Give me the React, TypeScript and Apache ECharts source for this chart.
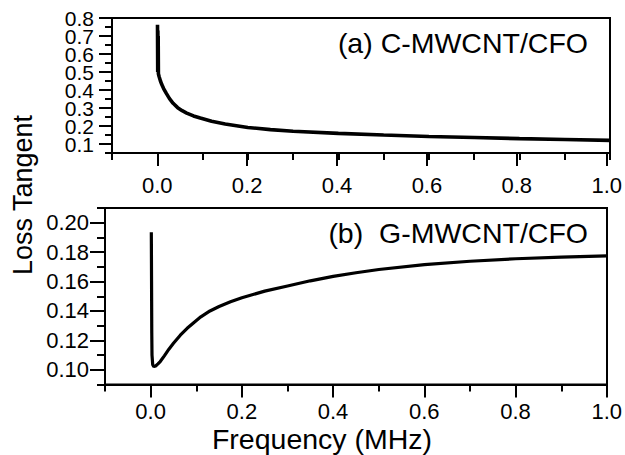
import React, { useEffect, useRef } from "react";
import * as echarts from "echarts";

// ---- data ----
const curveA_x = [0.0005, 0.001, 0.0013, 0.0017, 0.002, 0.0025, 0.004, 0.007, 0.01, 0.014, 0.02, 0.027, 0.035, 0.045, 0.055, 0.065, 0.08, 0.095, 0.12, 0.15, 0.2, 0.25, 0.3, 0.4, 0.5, 0.6, 0.7, 0.8, 0.9, 1.0];
const curveA_y = [0.762, 0.5, 0.73, 0.52, 0.7, 0.49, 0.475, 0.45, 0.43, 0.408, 0.381, 0.352, 0.326, 0.302, 0.285, 0.272, 0.256, 0.244, 0.226, 0.211, 0.192, 0.18, 0.171, 0.159, 0.15, 0.142, 0.136, 0.13, 0.125, 0.12];

const curveB_x = [0.0015, 0.002, 0.0025, 0.003, 0.0045, 0.007, 0.011, 0.016, 0.021, 0.03, 0.04, 0.05, 0.065, 0.08, 0.095, 0.11, 0.13, 0.15, 0.175, 0.2, 0.25, 0.3, 0.35, 0.4, 0.45, 0.5, 0.6, 0.7, 0.8, 0.9, 1.0];
const curveB_y = [0.1935, 0.16, 0.125, 0.11, 0.1035, 0.1022, 0.1026, 0.104, 0.1056, 0.1095, 0.114, 0.118, 0.1235, 0.1282, 0.1322, 0.136, 0.14, 0.143, 0.1462, 0.149, 0.1535, 0.157, 0.1605, 0.1635, 0.166, 0.1682, 0.1715, 0.1738, 0.1755, 0.1766, 0.1775];

// axis ranges and tick steps
const xRange = [-0.1, 1.0];
const xMajorRange = [0, 1.0];
const xMajorStep = 0.2;
const xMinorStep = 0.1;
const yaRange = [0.05, 0.8];
// panel (a) major labels split in two interleaved sets: 0.1,0.3,0.5,0.7 and 0.2,0.4,0.6,0.8
const yaMajorRanges = [[0.1, 0.7], [0.2, 0.8]];
const yaMajorStep = 0.2;
const yaMinorStep = 0.05;
const ybRange = [0.09, 0.21];
const ybMajorRanges = [[0.1, 0.2]];
const ybMajorStep = 0.02;
const ybMinorStep = 0.01;

const labelA = "(a) C-MWCNT/CFO";
const labelB = "(b)  G-MWCNT/CFO";
const yTitle = "Loss Tangent";
const xTitle = "Frequency (MHz)";

const FONT = "'Liberation Sans', Arial, sans-serif";

export default function App() {
  const ref = useRef<HTMLDivElement>(null);
  useEffect(() => {
    if (!ref.current) return;
    const chart = echarts.init(ref.current, null, { renderer: "svg" });
    const lineW = 2;
    const black = "#000";

    // panel boxes (pixels)
    const A = { left: 112, right: 15, top: 18, height: 135 };
    const B = { left: 105, right: 18, top: 208, height: 176.5 };
    const W = 625;

    const span = (r: number[]) => r[1] - r[0];
    const xShift = (P: any) => ((W - P.left - P.right) * (xMajorRange[0] - xRange[0])) / span(xRange);

    const grids: any[] = [];
    const xAxes: any[] = [];
    const yAxes: any[] = [];

    const hiddenAxis = (grid: number, range: number[]) => ({
      type: "value",
      gridIndex: grid,
      min: range[0],
      max: range[1],
      show: false,
    });

    const buildPanel = (P: any, yRange: number[], yMajRanges: number[][], yMajStep: number, yMinStep: number, digits: number, xMargin: number, yMargin: number, yMajLen: number, yMinLen: number, yFont: number) => {
      const gMain = grids.length;
      grids.push({ left: P.left, right: P.right, top: P.top, height: P.height, show: true, borderColor: black, borderWidth: lineW, containLabel: false });
      const xMainIdx = xAxes.length;
      xAxes.push({
        type: "value",
        gridIndex: gMain,
        position: "bottom",
        min: xRange[0],
        max: xRange[1],
        interval: xMinorStep,
        axisLine: { show: true, onZero: false, lineStyle: { color: black, width: lineW } },
        axisTick: { show: true, length: 7, lineStyle: { color: black, width: lineW } },
        axisLabel: { show: false },
        splitLine: { show: false },
      });
      const yMainIdx = yAxes.length;
      yAxes.push({
        type: "value",
        gridIndex: gMain,
        position: "left",
        min: yRange[0],
        max: yRange[1],
        interval: yMinStep,
        axisLine: { show: true, onZero: false, lineStyle: { color: black, width: lineW } },
        axisTick: { show: true, length: yMinLen, lineStyle: { color: black, width: lineW } },
        axisLabel: { show: false },
        splitLine: { show: false },
      });

      // x major ticks + labels
      const sh = xShift(P);
      const gX = grids.length;
      grids.push({ left: P.left + sh, right: P.right, top: P.top, height: P.height, show: false, containLabel: false });
      xAxes.push({
        type: "value",
        gridIndex: gX,
        position: "bottom",
        min: xMajorRange[0],
        max: xMajorRange[1],
        interval: xMajorStep,
        axisLine: { show: false, onZero: false },
        axisTick: { show: true, length: 13, lineStyle: { color: black, width: lineW } },
        axisLabel: {
          show: true,
          showMinLabel: true,
          showMaxLabel: true,
          margin: xMargin,
          color: black,
          fontSize: 22,
          fontFamily: FONT,
          formatter: (v: number) => v.toFixed(1),
        },
        splitLine: { show: false },
      });
      yAxes.push(hiddenAxis(gX, yRange));

      // y major ticks + labels
      const pxPerUnit = P.height / span(yRange);
      yMajRanges.forEach((r) => {
        const topCut = (yRange[1] - r[1]) * pxPerUnit;
        const botCut = (r[0] - yRange[0]) * pxPerUnit;
        const gY = grids.length;
        grids.push({ left: P.left, right: P.right, top: P.top + topCut, height: P.height - topCut - botCut, show: false, containLabel: false });
        xAxes.push(hiddenAxis(gY, xRange));
        yAxes.push({
          type: "value",
          gridIndex: gY,
          position: "left",
          min: r[0],
          max: r[1],
          interval: yMajStep,
          axisLine: { show: false, onZero: false },
          axisTick: { show: true, length: yMajLen, lineStyle: { color: black, width: lineW } },
          axisLabel: {
            show: true,
            showMinLabel: true,
            showMaxLabel: true,
            margin: yMargin,
            color: black,
            fontSize: yFont,
            fontFamily: FONT,
            formatter: (v: number) => v.toFixed(digits),
          },
          splitLine: { show: false },
        });
      });
      return { xMainIdx, yMainIdx };
    };

    const pa = buildPanel(A, yaRange, yaMajorRanges, yaMajorStep, yaMinorStep, 1, 21, 18, 13, 7, 21);
    const pb = buildPanel(B, ybRange, ybMajorRanges, ybMajorStep, ybMinorStep, 2, 16, 16, 15, 8, 22);

    chart.setOption({
      animation: false,
      backgroundColor: "#fff",
      grid: grids,
      xAxis: xAxes,
      yAxis: yAxes,
      series: [
        {
          type: "line",
          xAxisIndex: pa.xMainIdx,
          yAxisIndex: pa.yMainIdx,
          data: curveA_x.map((x, i) => [x, curveA_y[i]]),
          showSymbol: false,
          symbol: "none",
          lineStyle: { color: black, width: 3.6 },
        },
        {
          type: "line",
          xAxisIndex: pb.xMainIdx,
          yAxisIndex: pb.yMainIdx,
          data: curveB_x.map((x, i) => [x, curveB_y[i]]),
          showSymbol: false,
          symbol: "none",
          lineStyle: { color: black, width: 3.2 },
        },
      ],
      graphic: [
        {
          type: "text",
          x: 588,
          y: 43,
          style: { text: labelA, fontSize: 28.5, fontFamily: FONT, fill: black, textAlign: "right", textVerticalAlign: "middle" },
        },
        {
          type: "text",
          x: 588,
          y: 233,
          style: { text: labelB, fontSize: 28.5, fontFamily: FONT, fill: black, textAlign: "right", textVerticalAlign: "middle" },
        },
        {
          type: "text",
          x: 322,
          y: 439,
          style: { text: xTitle, fontSize: 28.5, fontFamily: FONT, fill: black, textAlign: "center", textVerticalAlign: "middle" },
        },
        {
          type: "text",
          x: 23,
          y: 195,
          rotation: Math.PI / 2,
          style: { text: yTitle, fontSize: 27, fontFamily: FONT, fill: black, textAlign: "center", textVerticalAlign: "middle" },
        },
      ],
    });
    return () => chart.dispose();
  }, []);
  return <div ref={ref} style={{ position: "fixed", left: 0, top: 0, width: 625, height: 455, background: "#fff" }} />;
}
